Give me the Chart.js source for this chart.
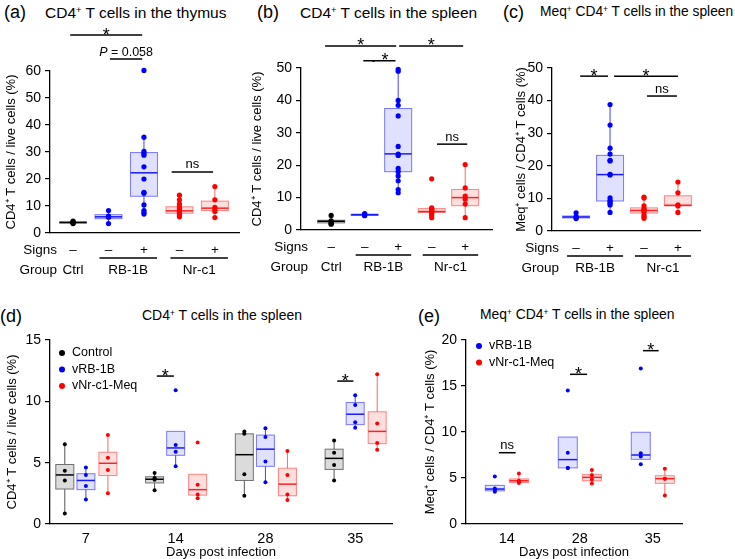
<!DOCTYPE html>
<html lang="en">
<head>
<meta charset="UTF-8">
<title>CD4+ T cells in thymus and spleen</title>
<script src="https://cdn.jsdelivr.net/npm/chart.js"></script>
<style>
  body { margin: 0; background: #fff; font-family: "Liberation Sans", Arial, sans-serif; }
  #fig { position: relative; width: 735px; height: 559px; overflow: hidden; }
  canvas { position: absolute; }
  .lbl { position: absolute; white-space: nowrap; line-height: 1; color: #000; }
  .lbl sup { font-size: 0.6em; vertical-align: 0.5em; line-height: 0; }
</style>
</head>
<body>
<div id="fig">
  <div class="lbl" style="left:4px;top:3px;font-size:18px">(a)</div>
  <div class="lbl" style="left:45px;top:5px;font-size:15.5px">CD4<sup>+</sup> T cells in the thymus</div>
  <div class="lbl" style="left:257px;top:3px;font-size:18px">(b)</div>
  <div class="lbl" style="left:300px;top:5px;font-size:15.5px">CD4<sup>+</sup> T cells in the spleen</div>
  <div class="lbl" style="left:503px;top:3px;font-size:18px">(c)</div>
  <div class="lbl" style="left:540px;top:5px;font-size:13.8px">Meq<sup>+</sup> CD4<sup>+</sup> T cells in the spleen</div>
  <div class="lbl" style="left:0px;top:307px;font-size:18px">(d)</div>
  <div class="lbl" style="left:142px;top:308px;font-size:14px">CD4<sup>+</sup> T cells in the spleen</div>
  <div class="lbl" style="left:418px;top:307px;font-size:18px">(e)</div>
  <div class="lbl" style="left:480px;top:308px;font-size:13.9px">Meq<sup>+</sup> CD4<sup>+</sup> T cells in the spleen</div>

  <canvas id="chartA" width="245" height="280" style="left:0px;top:0px"></canvas>
  <canvas id="chartB" width="249" height="280" style="left:246px;top:0px"></canvas>
  <canvas id="chartC" width="225" height="280" style="left:510px;top:0px"></canvas>
  <canvas id="chartD" width="399" height="279" style="left:1px;top:280px"></canvas>
  <canvas id="chartE" width="316" height="279" style="left:419px;top:280px"></canvas>
</div>

<script>
  // ---------- data ----------
  // top row groups: Ctrl, RB-1B -, RB-1B +, Nr-c1 -, Nr-c1 +
  const topSigns = ['–', '–', '+', '–', '+']
  const topColors = ['black', 'blue', 'blue', 'red', 'red']
  const topGroups = [
    { label: 'Ctrl', cats: [1] },
    { label: 'RB-1B', cats: [2, 3] },
    { label: 'Nr-c1', cats: [4, 5] }
  ]

  // (a) thymus, % of live cells
  const thymusPoints = [
    [4.4, 4.1, 3.9, 3.7, 3.5],
    [8.3, 6.3, 5.8, 3.5],
    [60.2, 35.5, 30.2, 29.5, 28.8, 24.5, 20.0, 15.1, 14.7, 10.4, 8.3, 7.6, 7.0],
    [14.0, 12.3, 10.8, 9.8, 9.2, 8.6, 8.1, 7.6, 7.2, 6.6, 6.0],
    [17.2, 12.3, 9.5, 8.6, 8.0, 5.7]
  ]
  // [whisker low, q1, median, q3, whisker high]
  const thymusBoxes = [
    [3.5, 3.7, 3.9, 4.1, 4.4],
    [3.5, 5.3, 6.0, 6.8, 8.3],
    [7.0, 13.6, 22.3, 29.8, 35.5],
    [6.0, 7.3, 8.2, 9.7, 14.0],
    [5.7, 8.3, 9.2, 11.8, 17.2]
  ]
  const thymusSig = [
    { from: 0.92, to: 2.95, y: 73.3, text: '*' },
    { from: 2.04, to: 2.95, y: 64.4, italic: 'P', text: ' = 0.058' },
    { from: 3.78, to: 4.95, y: 22.6, text: 'ns' }
  ]

  // (b) spleen, % of live cells
  const spleenPoints = [
    [4.5, 2.8, 2.2, 2.0, 1.8],
    [5.1, 4.8, 4.6, 4.4],
    [49.6, 49.0, 40.0, 38.5, 35.2, 25.8, 23.4, 23.0, 19.0, 18.0, 16.7, 15.2, 12.5, 11.5],
    [15.8, 6.8, 6.5, 6.2, 6.0, 5.8, 5.5, 5.0, 4.5, 3.8],
    [20.2, 13.0, 10.5, 9.5, 8.0, 3.8]
  ]
  const spleenBoxes = [
    [1.8, 2.2, 2.7, 3.0, 4.5],
    [4.4, 4.5, 4.7, 4.9, 5.1],
    [11.5, 18.0, 23.5, 37.5, 49.6],
    [3.8, 5.4, 5.7, 6.6, 6.8],
    [3.8, 7.5, 10.0, 12.5, 20.2]
  ]
  const spleenSig = [
    { from: 0.82, to: 2.94, y: 56.8, text: '*' },
    { from: 3.03, to: 4.94, y: 56.8, text: '*' },
    { from: 1.96, to: 2.92, y: 52.2, text: '· *' },
    { from: 4.16, to: 5.06, y: 26.5, text: 'ns' }
  ]

  // (c) Meq+ among CD4+ T cells, spleen
  const meqSigns = ['–', '+', '–', '+']
  const meqColors = ['blue', 'blue', 'red', 'red']
  const meqGroups = [
    { label: 'RB-1B', cats: [1, 2] },
    { label: 'Nr-c1', cats: [3, 4] }
  ]
  const meqPoints = [
    [5.6, 4.4, 4.1, 3.8],
    [38.8, 32.5, 25.4, 23.6, 21.7, 21.5, 17.4, 17.2, 10.2, 9.4, 9.0, 8.5, 8.0, 5.7],
    [10.4, 10.1, 7.7, 6.8, 6.5, 6.2, 5.8, 4.9, 4.4, 3.9],
    [15.0, 11.7, 8.0, 7.7, 5.7]
  ]
  const meqBoxes = [
    [3.8, 4.0, 4.3, 4.6, 5.6],
    [5.7, 9.2, 17.3, 23.2, 38.8],
    [3.9, 5.5, 6.3, 7.1, 10.4],
    [5.7, 7.7, 7.9, 10.8, 15.0]
  ]
  const meqSig = [
    { from: 1.12, to: 1.94, y: 47.5, text: '*' },
    { from: 2.12, to: 4.0, y: 47.5, text: '*' },
    { from: 3.09, to: 3.97, y: 41.4, text: 'ns' }
  ]

  // (d) time course, CD4+ T cells / live cells
  const daysD = ['7', '14', '28', '35']
  const seriesD = ['Control', 'vRB-1B', 'vNr-c1-Meq']
  const colorsD = ['black', 'blue', 'red']
  const controlPtsD = [[6.5, 4.35, 3.55, 0.85], [4.15, 3.75, 3.7, 3.6, 2.75], [7.55, 7.35, 4.05, 2.3], [6.8, 5.8, 4.8, 3.55]]
  const rbPtsD = [[4.6, 4.0, 3.1, 2.0], [10.9, 6.45, 5.9, 4.7], [7.8, 7.1, 5.1, 3.4], [10.5, 9.7, 8.3, 7.85]]
  const nrPtsD = [[7.25, 5.4, 4.4, 2.5], [6.65, 3.2, 2.4, 2.1], [5.95, 4.0, 2.4, 1.95], [12.2, 8.2, 6.6, 6.05]]
  const controlBoxD = [[0.85, 2.85, 4.0, 4.85, 6.5], [2.75, 3.35, 3.65, 3.85, 4.15], [2.3, 3.55, 5.65, 7.35, 7.55], [3.55, 4.45, 5.35, 6.1, 6.8]]
  const rbBoxD = [[2.0, 2.8, 3.55, 4.1, 4.6], [4.7, 5.6, 6.2, 7.55, 7.55], [3.4, 4.7, 6.1, 7.25, 7.8], [7.85, 8.1, 8.95, 9.9, 10.5]]
  const nrBoxD = [[2.5, 3.95, 4.95, 5.85, 7.25], [2.1, 2.35, 2.8, 4.05, 4.05], [1.95, 2.3, 3.25, 4.55, 5.95], [6.05, 6.55, 7.55, 9.15, 12.2]]
  const sigD = [
    { from: 1.79, to: 1.98, y: 12.06, text: '*' },
    { from: 3.80, to: 3.98, y: 11.65, text: '*' }
  ]

  // (e) time course, Meq+ / CD4+ T cells
  const daysE = ['14', '28', '35']
  const seriesE = ['vRB-1B', 'vNr-c1-Meq']
  const colorsE = ['blue', 'red']
  const rbPtsE = [[5.15, 3.85, 3.7, 3.5], [14.5, 7.75, 6.1, 6.1], [16.9, 7.7, 7.35, 6.5]]
  const nrPtsE = [[5.5, 4.7, 4.6, 4.45], [5.87, 5.3, 4.85, 4.4], [6.0, 4.93, 4.93, 3.1]]
  const rbBoxE = [[3.6, 3.6, 3.8, 4.2, 4.2], [6.1, 6.1, 7.0, 9.45, 9.45], [7.03, 7.03, 7.5, 9.97, 9.97]]
  const nrBoxE = [[4.45, 4.5, 4.7, 4.9, 5.5], [4.4, 4.7, 5.07, 5.4, 5.87], [3.1, 4.42, 4.93, 5.25, 6.0]]
  const sigE = [
    { from: 0.89, to: 1.12, y: 7.75, text: 'ns' },
    { from: 1.865, to: 2.10, y: 16.27, text: '*' },
    { from: 2.865, to: 3.08, y: 18.84, text: '*' }
  ]

  // ---------- drawing ----------
  const FONT = '"Liberation Sans", Arial, sans-serif'
  Chart.defaults.font.family = FONT
  Chart.defaults.color = '#000'

  const palette = {
    black: { dot: '#000', fill: 'rgba(0,0,0,0.14)', edge: '#707070', median: '#000', whisker: '#555' },
    blue: { dot: '#0000ff', fill: 'rgba(0,0,255,0.12)', edge: 'rgba(40,40,255,0.6)', median: '#1a1aff', whisker: 'rgba(0,0,255,0.75)' },
    red: { dot: '#ff0000', fill: 'rgba(255,0,0,0.13)', edge: 'rgba(255,40,40,0.55)', median: '#ff2020', whisker: 'rgba(255,0,0,0.6)' }
  }

  const boxPlugin = {
    id: 'boxes',
    beforeDatasetsDraw(chart, args, opts) {
      const { ctx, scales: { x, y } } = chart
      const w = opts.width / 2
      opts.items.forEach(b => {
        const cx = x.getPixelForValue(b.x)
        const [lo, q1, md, q3, hi] = b.stats.map(v => y.getPixelForValue(v))
        const pal = palette[b.color]
        ctx.save()
        ctx.lineWidth = 1
        ctx.strokeStyle = pal.whisker
        ctx.beginPath()
        ctx.moveTo(cx, lo); ctx.lineTo(cx, q1)
        ctx.moveTo(cx, q3); ctx.lineTo(cx, hi)
        ctx.stroke()
        ctx.fillStyle = pal.fill
        ctx.fillRect(cx - w, q3, 2 * w, q1 - q3)
        ctx.strokeStyle = pal.edge
        ctx.strokeRect(cx - w, q3, 2 * w, q1 - q3)
        ctx.strokeStyle = pal.median
        ctx.lineWidth = 1.5
        ctx.beginPath()
        ctx.moveTo(cx - w, md); ctx.lineTo(cx + w, md)
        ctx.stroke()
        ctx.restore()
      })
    }
  }

  const notesPlugin = {
    id: 'notes',
    afterDraw(chart, args, o) {
      const { ctx, chartArea, scales: { x, y } } = chart
      ctx.save()
      ctx.fillStyle = '#000'
      ctx.strokeStyle = '#000'

      // significance bars
      ;(o.sig || []).forEach(s => {
        const x1 = x.getPixelForValue(s.from)
        const x2 = x.getPixelForValue(s.to)
        const yy = y.getPixelForValue(s.y)
        ctx.lineWidth = 1.5
        ctx.beginPath(); ctx.moveTo(x1, yy); ctx.lineTo(x2, yy); ctx.stroke()
        const cx = (x1 + x2) / 2
        ctx.textBaseline = 'alphabetic'
        if (s.text.includes('*')) {
          ctx.font = '18px ' + FONT
          ctx.textAlign = 'center'
          ctx.fillText(s.text, cx, yy + 5.5)
        } else if (s.italic) {
          const fi = 'italic 12.5px ' + FONT, fn = '12.5px ' + FONT
          ctx.font = fi; const wi = ctx.measureText(s.italic).width
          ctx.font = fn; const wn = ctx.measureText(s.text).width
          const x0 = cx - (wi + wn) / 2
          ctx.textAlign = 'left'
          ctx.font = fi; ctx.fillText(s.italic, x0, yy - 3.5)
          ctx.font = fn; ctx.fillText(s.text, x0 + wi, yy - 3.5)
        } else {
          ctx.font = '13px ' + FONT
          ctx.textAlign = 'center'
          ctx.fillText(s.text, cx, yy - 3.5)
        }
      })

      // Signs / Group rows under the axis
      if (o.signs) {
        const b = chartArea.bottom
        ctx.font = '13.5px ' + FONT
        ctx.textBaseline = 'middle'
        ctx.textAlign = 'right'
        ctx.fillText('Signs', chartArea.left + 7, b + 17)
        ctx.fillText('Group', chartArea.left + 7, b + 37)
        ctx.textAlign = 'center'
        o.signs.forEach((s, i) => ctx.fillText(s, x.getPixelForValue(i + 1), b + 17))
        o.groups.forEach(g => {
          const first = x.getPixelForValue(g.cats[0])
          const last = x.getPixelForValue(g.cats[g.cats.length - 1])
          if (g.cats.length > 1) {
            const l = first - 9, r = last + 13
            ctx.lineWidth = 1.3
            ctx.beginPath(); ctx.moveTo(l, b + 25); ctx.lineTo(r, b + 25); ctx.stroke()
            ctx.fillText(g.label, (l + r) / 2, b + 37)
          } else {
            ctx.fillText(g.label, first, b + 37)
          }
        })
      }

      // legend
      if (o.legend) {
        const L = o.legend
        ctx.font = '12.5px ' + FONT
        ctx.textBaseline = 'middle'
        ctx.textAlign = 'left'
        L.items.forEach((it, i) => {
          const yy = chartArea.top + L.y + i * L.dy
          ctx.fillStyle = palette[it.color].dot
          ctx.beginPath(); ctx.arc(chartArea.left + L.x, yy, 3, 0, Math.PI * 2); ctx.fill()
          ctx.fillStyle = '#000'
          ctx.fillText(it.label, chartArea.left + L.x + 10, yy)
        })
      }
      ctx.restore()
    }
  }

  const yAxis = (max, step, title, width) => ({
    type: 'linear',
    min: 0,
    max: max,
    ticks: { stepSize: step, font: { size: 14 }, color: '#000', padding: 4 },
    grid: { drawOnChartArea: false, tickLength: 5, color: '#000', lineWidth: 1.2 },
    border: { color: '#000', width: 1.3 },
    title: { display: true, text: title, font: { size: 13, lineHeight: 1.2 }, color: '#000', padding: { top: 4, bottom: 0 } },
    afterFit: s => { s.width = width }
  })

  const baseOptions = (pad, plugins, scales) => ({
    responsive: false,
    animation: false,
    events: [],
    layout: { padding: pad },
    plugins: Object.assign({ legend: { display: false }, tooltip: { enabled: false } }, plugins),
    scales: scales
  })

  const dotSet = (data, color, r) => ({
    data: data,
    backgroundColor: palette[color].dot,
    borderWidth: 0,
    pointRadius: r,
    pointHoverRadius: r,
    clip: false
  })

  function topChart(id, cfg) {
    return new Chart(document.getElementById(id), {
      type: 'scatter',
      data: {
        datasets: cfg.points.map((pts, i) => dotSet(pts.map(v => ({ x: i + 1, y: v })), cfg.colors[i], 2.6))
      },
      options: baseOptions(cfg.pad, {
        boxes: { width: 27, items: cfg.boxes.map((st, i) => ({ x: i + 1, stats: st, color: cfg.colors[i] })) },
        notes: { sig: cfg.sig, signs: cfg.signs, groups: cfg.groups }
      }, {
        x: {
          type: 'linear', min: cfg.xmin, max: cfg.xmax,
          grid: { display: false, drawTicks: false },
          border: { color: '#000', width: 1.3 },
          ticks: { display: false },
          afterFit: s => { s.height = 0 }
        },
        y: yAxis(cfg.ymax, 10, cfg.ytitle, cfg.yw)
      }),
      plugins: [boxPlugin, notesPlugin]
    })
  }

  function timeChart(id, cfg) {
    const datasets = cfg.points.map((series, s) =>
      dotSet(series.flatMap((vals, d) => vals.map(v => ({ x: d + 1 + cfg.offsets[s], y: v }))), cfg.colors[s], 2))
    const items = []
    cfg.boxes.forEach((series, s) => series.forEach((st, d) =>
      items.push({ x: d + 1 + cfg.offsets[s], stats: st, color: cfg.colors[s] })))
    return new Chart(document.getElementById(id), {
      type: 'scatter',
      data: { datasets: datasets },
      options: baseOptions(cfg.pad, {
        boxes: { width: cfg.boxWidth, items: items },
        notes: { sig: cfg.sig, legend: { x: cfg.legX, y: cfg.legY, dy: 16.5, items: cfg.series.map((l, i) => ({ label: l, color: cfg.colors[i] })) } }
      }, {
        x: {
          type: 'linear', min: cfg.xmin, max: cfg.xmax,
          grid: { display: false, drawTicks: false },
          border: { color: '#000', width: 1.3 },
          afterBuildTicks: s => { s.ticks = cfg.days.map((d, i) => ({ value: i + 1 })) },
          ticks: { callback: (v) => cfg.days[v - 1], font: { size: 14.5 }, color: '#000', padding: 6, autoSkip: false, maxRotation: 0 },
          title: { display: true, text: 'Days post infection', font: { size: 13, lineHeight: 1 }, color: '#000', padding: { top: 0, bottom: 0 } },
          afterFit: s => { s.height = 35 }
        },
        y: yAxis(cfg.ymax, 5, cfg.ytitle, cfg.yw)
      }),
      plugins: [boxPlugin, notesPlugin]
    })
  }

  topChart('chartA', {
    points: thymusPoints, boxes: thymusBoxes, colors: topColors, sig: thymusSig,
    signs: topSigns, groups: topGroups, xmin: 0.35, xmax: 5.68, ymax: 60, yw: 50,
    ytitle: 'CD4⁺ T cells / live cells (%)', pad: { top: 71, right: 6, bottom: 47, left: 0 }
  })

  topChart('chartB', {
    points: spleenPoints, boxes: spleenBoxes, colors: topColors, sig: spleenSig,
    signs: topSigns, groups: topGroups, xmin: 0.1, xmax: 5.8, ymax: 50, yw: 55,
    ytitle: 'CD4⁺ T cells / live cells (%)', pad: { top: 68, right: 3, bottom: 50, left: 0 }
  })

  topChart('chartC', {
    points: meqPoints, boxes: meqBoxes, colors: meqColors, sig: meqSig,
    signs: meqSigns, groups: meqGroups, xmin: 0.29, xmax: 4.65, ymax: 50, yw: 42,
    ytitle: 'Meq⁺ cells / CD4⁺ T cells (%)', pad: { top: 68, right: 35, bottom: 49, left: 0 }
  })

  timeChart('chartD', {
    points: [controlPtsD, rbPtsD, nrPtsD], boxes: [controlBoxD, rbBoxD, nrBoxD],
    colors: colorsD, series: seriesD, days: daysD, offsets: [-0.235, 0, 0.245], boxWidth: 18,
    sig: sigD, xmin: 0.6, xmax: 4.41, ymax: 15, yw: 49, legX: 12, legY: 13,
    ytitle: 'CD4⁺ T cells / live cells (%)', pad: { top: 60, right: 8, bottom: 0, left: 0 }
  })

  timeChart('chartE', {
    points: [rbPtsE, nrPtsE], boxes: [rbBoxE, nrBoxE],
    colors: colorsE, series: seriesE, days: daysE, offsets: [-0.165, 0.165], boxWidth: 19,
    sig: sigE, xmin: 0.44, xmax: 3.4, ymax: 20, yw: 47, legX: 13, legY: 6,
    ytitle: 'Meq⁺ cells / CD4⁺ T cells (%)', pad: { top: 60, right: 53, bottom: 0, left: 0 }
  })
</script>
</body>
</html>
